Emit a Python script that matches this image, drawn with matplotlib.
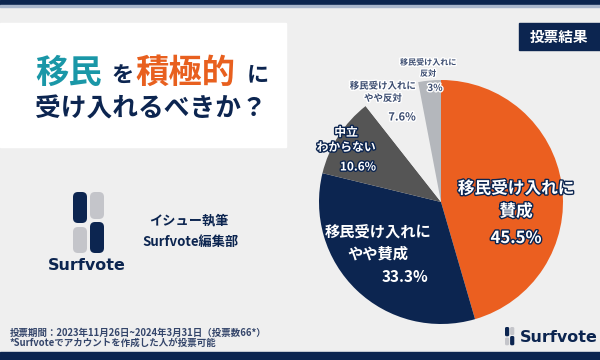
import matplotlib.pyplot as plt
import matplotlib.patheffects as pe
from matplotlib.patches import Rectangle, FancyBboxPatch

plt.rcParams['font.family'] = ['Noto Sans CJK JP', 'DejaVu Sans']

# data
labels = ['移民受け入れに\n賛成', '移民受け入れに\nやや賛成', '中立\nわからない',
          '移民受け入れに\nやや反対', '移民受け入れに\n反対']
values = [45.5, 33.3, 10.6, 7.6, 3.0]
pct_labels = ['45.5%', '33.3%', '10.6%', '7.6%', '3%']
colors = ['#eb5f20', '#0c2550', '#555555', '#efefef', '#b4b7bc']

NAVY = '#0c2550'
BG = '#efefef'

fig = plt.figure(figsize=(6, 3.6), dpi=100)
fig.patch.set_facecolor(BG)

# pixel-space background axes
bg = fig.add_axes([0, 0, 1, 1])
bg.set_xlim(0, 600)
bg.set_ylim(360, 0)
bg.axis('off')
bg.add_patch(Rectangle((0, 0), 600, 5, color=NAVY))
bg.add_patch(Rectangle((0, 5), 600, 1.5, color='#a9b6cc'))
bg.add_patch(Rectangle((0, 352), 600, 8, color=NAVY))
bg.add_patch(Rectangle((0, 23), 286, 124, color='white'))
bg.add_patch(Rectangle((519, 23), 81, 27, color=NAVY))


def draw_logo(ax, x0, y0, s):
    # four rounded pieces of the Surfvote mark, based on a 31x61 px layout
    pieces = [(0, 0, 14, 31, NAVY), (17, 0, 14, 27, '#c4c5ca'),
              (0, 35, 14, 26, '#c4c5ca'), (17, 30, 14, 31, NAVY)]
    for px, py, pw, ph, c in pieces:
        ax.add_patch(FancyBboxPatch((x0 + px * s, y0 + py * s), pw * s, ph * s,
                                    boxstyle=f'round,pad=0,rounding_size={5 * s}',
                                    color=c, lw=0))


draw_logo(bg, 73, 192, 1.0)
draw_logo(bg, 505, 327, 0.3)

# pie
pax = fig.add_axes([319 / 600, 36 / 360, 244 / 600, 244 / 360])
pax.pie(values, colors=colors, startangle=90, counterclock=False, radius=1,
        wedgeprops=dict(linewidth=0))
pax.set_xlim(-1, 1)
pax.set_ylim(-1, 1)
pax.axis('off')

# text overlay
tx = fig.add_axes([0, 0, 1, 1])
tx.set_xlim(0, 600)
tx.set_ylim(360, 0)
tx.axis('off')
tx.patch.set_alpha(0)

# title
tx.text(35, 73, '移民', fontsize=24, fontweight='bold', color='#1a97a7', va='center', ha='left')
tx.text(111, 75, 'を', fontsize=16, fontweight='bold', color=NAVY, va='center', ha='left')
tx.text(135, 73, '積極的', fontsize=24, fontweight='bold', color='#e8601f', va='center', ha='left')
tx.text(247, 75, 'に', fontsize=16, fontweight='bold', color=NAVY, va='center', ha='left')
tx.text(35, 109, '受け入れるべきか？', fontsize=18.5, fontweight='bold', color=NAVY,
        va='center', ha='left')

tx.text(559, 37, '投票結果', fontsize=10.5, fontweight='bold', color='white', va='center', ha='center')

tx.text(189, 220, 'イシュー執筆', fontsize=9.5, fontweight='bold', color=NAVY, va='center', ha='center')
tx.text(191, 242, 'Surfvote編集部', fontsize=9.5, fontweight='bold', color=NAVY, va='center', ha='center')
tx.text(87, 266, 'Surfvote', fontsize=11.5, fontweight='bold', color=NAVY, va='center',
        ha='center', family='DejaVu Sans')
tx.text(520, 338, 'Surfvote', fontsize=11.5, fontweight='bold', color=NAVY, va='center',
        ha='left', family='DejaVu Sans')

tx.text(10, 333, '投票期間：2023年11月26日~2024年3月31日（投票数66*）', fontsize=6.8,
        fontweight='bold', color='#34456a', va='center', ha='left')
tx.text(10, 343, '*Surfvoteでアカウントを作成した人が投票可能', fontsize=6.8,
        fontweight='bold', color='#34456a', va='center', ha='left')

# pie labels
dark_stroke = [pe.withStroke(linewidth=2, foreground=NAVY)]
white_stroke = [pe.withStroke(linewidth=2, foreground='white')]

tx.text(516, 200, labels[0], fontsize=12, fontweight='bold', color='white', ha='center',
        va='center', linespacing=1.35, path_effects=dark_stroke)
tx.text(516, 238, pct_labels[0], fontsize=12, fontweight='bold', color='white', ha='center',
        va='center', path_effects=dark_stroke)

tx.text(378, 243, labels[1], fontsize=11, fontweight='bold', color='white', ha='center',
        va='center', linespacing=1.35)
tx.text(405, 277, pct_labels[1], fontsize=11, fontweight='bold', color='white', ha='center',
        va='center')

tx.text(346, 140, labels[2], fontsize=8.5, fontweight='bold', color='white', ha='center',
        va='center', linespacing=1.2, path_effects=dark_stroke)
tx.text(358, 167, pct_labels[2], fontsize=8.5, fontweight='bold', color='white', ha='center',
        va='center', path_effects=dark_stroke)

tx.text(383, 92, labels[3], fontsize=6.8, fontweight='bold', color='#3b4c70', ha='center',
        va='center', linespacing=1.3, path_effects=white_stroke)
tx.text(402, 117, pct_labels[3], fontsize=8, fontweight='bold', color='#3b4c70', ha='center',
        va='center', path_effects=white_stroke)

tx.text(428, 68, labels[4], fontsize=5.8, fontweight='bold', color='#3b4c70', ha='center',
        va='center', linespacing=1.3, path_effects=white_stroke)
tx.text(435, 88, pct_labels[4], fontsize=7, fontweight='bold', color='#3b4c70', ha='center',
        va='center', path_effects=white_stroke)

fig.savefig('out.png', dpi=100, facecolor=BG)
